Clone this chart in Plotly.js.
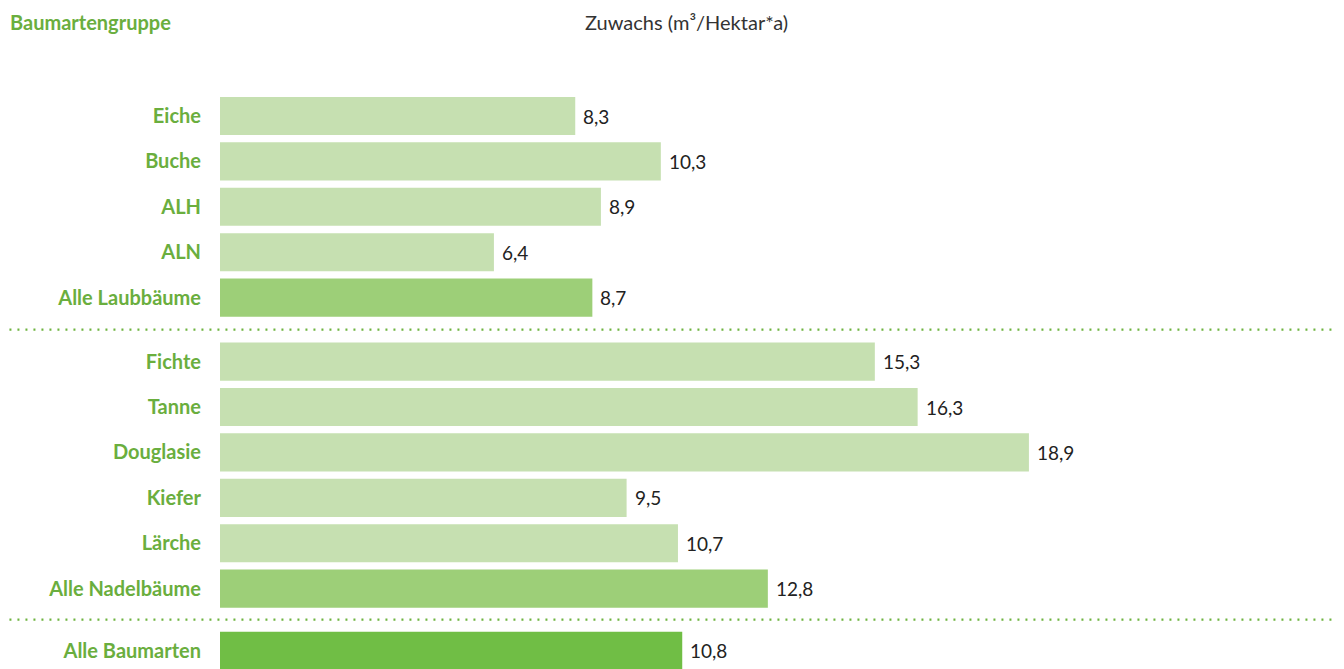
<!DOCTYPE html>
<html><head><meta charset="utf-8">
<script src="https://cdn.plot.ly/plotly-3.0.1.min.js"></script>
<style>html,body{margin:0;padding:0;background:#fff}#chart{width:1344px;height:669px}</style>
</head><body><div id="chart"></div>
<script>
// Data
const laubLabels = ["Eiche", "Buche", "ALH", "ALN", "Alle Laubbäume"];
const laubValues = [8.3, 10.3, 8.9, 6.4, 8.7];
const nadelLabels = ["Fichte", "Tanne", "Douglasie", "Kiefer", "Lärche", "Alle Nadelbäume"];
const nadelValues = [15.3, 16.3, 18.9, 9.5, 10.7, 12.8];
const gesamtLabels = ["Alle Baumarten"];
const gesamtValues = [10.8];

// Layout constants
const GAP1 = 1.41, GAP2 = 1.37;
const cLight = "#c6e0b1", cMid = "#9dcf78", cDark = "#70be45", cGreen = "#6aae3e";
const FONT = "Lato, 'Noto Sans', sans-serif";

const labels = [], values = [], pos = [], colors = [];
laubLabels.forEach((l, i) => { labels.push(l); values.push(laubValues[i]); pos.push(i);
  colors.push(i === laubLabels.length - 1 ? cMid : cLight); });
const off1 = laubLabels.length - 1 + GAP1;
nadelLabels.forEach((l, i) => { labels.push(l); values.push(nadelValues[i]); pos.push(off1 + i);
  colors.push(i === nadelLabels.length - 1 ? cMid : cLight); });
const off2 = off1 + nadelLabels.length - 1 + GAP2;
gesamtLabels.forEach((l, i) => { labels.push(l); values.push(gesamtValues[i]); pos.push(off2 + i); colors.push(cDark); });

const fmt = v => v.toFixed(1).replace(".", ",");

const trace = {
  type: "bar", orientation: "h",
  x: values, y: pos,
  width: 0.84,
  marker: { color: colors, line: { width: 0 } },
  hoverinfo: "skip"
};

const valueAnns = values.map((v, i) => ({
  x: v, y: pos[i], xref: "x", yref: "y", text: fmt(v), showarrow: false,
  xanchor: "left", yanchor: "middle", xshift: 6, yshift: 0,
  font: { family: FONT, size: 19, color: "#222" }
}));

const sep1 = (laubLabels.length - 1 + off1) / 2;
const sep2 = (off1 + nadelLabels.length - 1 + off2) / 2;
const dotLine = y => ({ type: "line", xref: "paper", yref: "y", x0: -0.188, x1: 0.994, y0: y, y1: y,
  line: { color: "#6db33f", width: 2.2, dash: "2px,6px" } });

const plotTop = 60, pxPerUnit = 45.4;
const yTop = -(116 - plotTop) / pxPerUnit;
const yBot = (669 - 116) / pxPerUnit;

const layout = {
  width: 1344, height: 669,
  margin: { l: 220, r: 4, t: plotTop, b: 0 },
  paper_bgcolor: "#fff", plot_bgcolor: "#fff",
  showlegend: false,
  xaxis: { range: [0, 1120 / 42.8], visible: false, fixedrange: true },
  yaxis: { range: [yBot, yTop], tickvals: pos, ticktext: labels, showgrid: false, zeroline: false,
    showline: false, ticks: "", ticklabelstandoff: 18,
    tickfont: { family: FONT, size: 20, color: cGreen, weight: "bold" } },
  shapes: [dotLine(sep1), dotLine(sep2)],
  annotations: [
    { text: "<b>Baumartengruppe</b>", xref: "paper", yref: "paper", x: -0.189, y: 1, yshift: 38,
      xanchor: "left", yanchor: "middle", showarrow: false,
      font: { family: FONT, size: 20, color: cGreen } },
    { text: "Zuwachs (m³/Hektar*a)", xref: "paper", yref: "paper", x: (686 - 220) / 1120, y: 1, yshift: 38,
      xanchor: "center", yanchor: "middle", showarrow: false,
      font: { family: FONT, size: 20, color: "#333" } }
  ].concat(valueAnns)
};

Plotly.newPlot("chart", [trace], layout, { displayModeBar: false, staticPlot: true });
</script></body></html>
